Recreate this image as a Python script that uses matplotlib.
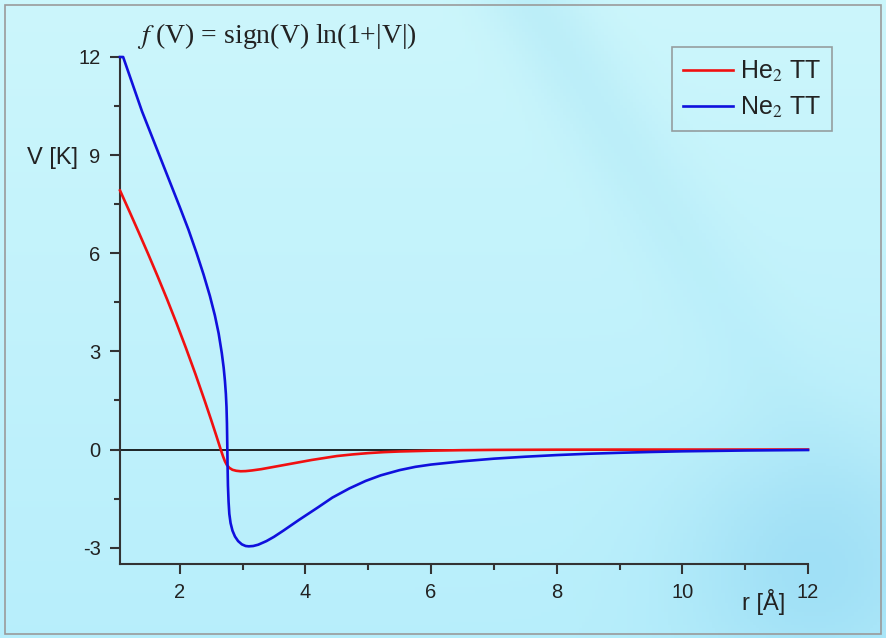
import numpy as np
import matplotlib
matplotlib.use('Agg')
import matplotlib.pyplot as plt
from matplotlib.patches import Rectangle
from matplotlib.ticker import MultipleLocator

# He2 TT potential
r_he = [1.05, 1.2, 1.35, 1.5, 1.65, 1.8, 1.95, 2.1, 2.25, 2.4, 2.5, 2.58, 2.63,
        2.66, 2.69, 2.72, 2.75, 2.79, 2.84, 2.9, 2.97, 3.05, 3.15, 3.3, 3.5, 3.7,
        3.9, 4.1, 4.3, 4.5, 4.75, 5.0, 5.25, 5.5, 6.0, 6.5, 7.0, 8.0, 9.0, 12.0]
v_he = [7.92, 7.28, 6.63, 5.97, 5.29, 4.59, 3.86, 3.1, 2.31, 1.48, 0.91, 0.44, 0.14,
        -0.04, -0.21, -0.36, -0.47, -0.56, -0.62, -0.65, -0.665, -0.66, -0.64, -0.6,
        -0.53, -0.46, -0.39, -0.32, -0.26, -0.2, -0.15, -0.11, -0.08, -0.06, -0.035,
        -0.02, -0.012, -0.005, -0.002, 0.0]

# Ne2 TT potential
r_ne = [1.05, 1.1, 1.4, 1.7, 2.0, 2.14, 2.27, 2.38, 2.48, 2.56, 2.62, 2.67, 2.70,
        2.72, 2.735, 2.745, 2.752, 2.757, 2.762, 2.768, 2.778, 2.79, 2.81, 2.84,
        2.88, 2.93, 2.99, 3.05, 3.1, 3.17, 3.25, 3.38, 3.5, 3.65, 3.9, 4.2, 4.43,
        4.7, 4.96, 5.2, 5.5, 5.75, 6.0, 6.5, 7.0, 7.5, 8.0, 8.5, 9.0, 9.5, 10.0,
        11.0, 12.0]
v_ne = [12.0, 12.0, 10.34, 8.88, 7.42, 6.72, 6.0, 5.35, 4.7, 4.1, 3.55, 2.95, 2.5,
        2.1, 1.7, 1.3, 0.8, 0.2, -0.5, -1.1, -1.6, -1.97, -2.25, -2.48, -2.66,
        -2.8, -2.9, -2.95, -2.96, -2.95, -2.91, -2.8, -2.67, -2.48, -2.15, -1.77,
        -1.47, -1.19, -0.96, -0.79, -0.63, -0.53, -0.46, -0.36, -0.28, -0.22,
        -0.17, -0.13, -0.1, -0.075, -0.055, -0.03, -0.015]

plt.rcParams['font.family'] = ['Liberation Sans', 'DejaVu Sans']
plt.rcParams['mathtext.fontset'] = 'stix'

fig = plt.figure(figsize=(8.86, 6.38), dpi=100)

# light cyan background with a soft diagonal streak
bg = fig.add_axes([0, 0, 1, 1], zorder=-10)
yy, xx = np.mgrid[0:1:200j, 0:1:280j]
base = np.zeros((200, 280, 3))
base[..., 0] = 0.80 - 0.08 * yy
base[..., 1] = 0.965 - 0.03 * yy
base[..., 2] = 0.985
d = np.abs((xx - 0.60) - 0.45 * (yy - 0.0))
streak = np.exp(-(d / 0.06) ** 2) * np.clip(1 - yy * 1.2, 0, 1)
blob = np.exp(-(((xx - 0.92) / 0.15) ** 2 + ((yy - 0.88) / 0.2) ** 2))
base[..., 0] -= 0.06 * streak + 0.10 * blob
base[..., 1] -= 0.03 * streak + 0.06 * blob
base[..., 2] -= 0.01 * streak + 0.02 * blob
bg.imshow(np.clip(base, 0, 1), aspect='auto', extent=[0, 1, 0, 1], origin='upper')
bg.set_axis_off()
fig.patches.append(Rectangle((0.006, 0.006), 0.988, 0.986, transform=fig.transFigure,
                             fill=False, edgecolor='#9a9a9a', lw=1.2))

ax = fig.add_axes([120 / 886, 1 - 564 / 638, 688 / 886, 507 / 638])
ax.patch.set_alpha(0)

ax.plot(r_he, v_he, color='#f01010', lw=1.9, label='He$_2$ TT', clip_on=False, zorder=3)
ax.plot(r_ne, v_ne, color='#1010dd', lw=1.9, label='Ne$_2$ TT', clip_on=False, zorder=3)
ax.axhline(0, color='black', lw=1.2, zorder=2)

ax.set_xlim(1.05, 12)
ax.set_ylim(-3.5, 12)
for s in ['top', 'right']:
    ax.spines[s].set_visible(False)
for s in ['left', 'bottom']:
    ax.spines[s].set_color('#333333')
    ax.spines[s].set_linewidth(1.5)

ax.xaxis.set_minor_locator(MultipleLocator(1))
ax.yaxis.set_minor_locator(MultipleLocator(1.5))
ax.tick_params(which='major', length=7, width=1.5, color='#333333', labelsize=14.5,
               labelcolor='#222222', pad=7)
ax.tick_params(which='minor', length=4, width=1.5, color='#333333')
ax.set_xticks([2, 4, 6, 8, 10, 12])
ax.set_yticks([-3, 0, 3, 6, 9, 12])
ax.set_yticklabels(['-3', '0', '3', '6', '9', '12'])

ax.set_xlabel('r [Å]', fontsize=17, color='#222222')
ax.xaxis.set_label_coords(0.935, -0.05)
ax.set_ylabel('V [K]', fontsize=17, rotation=0, color='#222222')
ax.yaxis.set_label_coords(-0.098, 0.78)

fig.text(137 / 886, 1 - 36 / 638, r'$f\,\,$(V) = sign(V) ln(1+|V|)', family='Liberation Serif',
         fontsize=20, va='center', ha='left', color='#222222')

leg = ax.legend(loc='upper right', bbox_to_anchor=(832 / 886, 1 - 47 / 638),
                bbox_transform=fig.transFigure, fontsize=18, handlelength=2.0,
                fancybox=False, facecolor='none', edgecolor='#888888', borderpad=0.45,
                labelspacing=0.45, handletextpad=0.25, borderaxespad=0)
leg.get_frame().set_linewidth(1.2)
for t in leg.get_texts():
    t.set_color('#222222')

fig.savefig('out.png', dpi=100)
